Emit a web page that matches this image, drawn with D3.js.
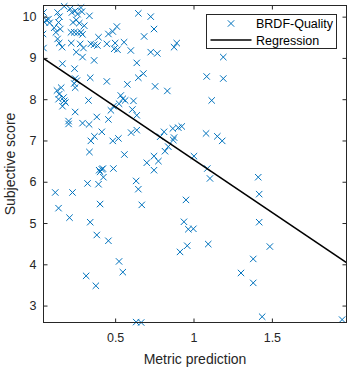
<!DOCTYPE html>
<html>
<head>
<meta charset="utf-8">
<script src="https://cdn.jsdelivr.net/npm/d3@7"></script>
<style>
  body { margin: 0; background: #fff; }
  svg { display: block; font-family: "Liberation Sans", Arial, sans-serif; }
</style>
</head>
<body>
<div id="chart"></div>
<script>
// BRDF-Quality samples: metric prediction (x) vs subjective score (y)
metricPrediction = [
  0.043, 0.050, 0.061, 0.075, 0.082, 0.040, 0.043, 0.133, 0.145, 0.139,
  0.150, 0.175, 0.213, 0.224, 0.245, 0.260, 0.282, 0.288, 0.336, 0.231,
  0.252, 0.271, 0.303, 0.111, 0.122, 0.218, 0.239, 0.260, 0.282, 0.292,
  0.133, 0.143, 0.162, 0.220, 0.277, 0.298, 0.345, 0.366, 0.387, 0.394,
  0.252, 0.292, 0.366, 0.164, 0.241, 0.245, 0.256, 0.239, 0.245, 0.341,
  0.447, 0.447, 0.500, 0.494, 0.515, 0.557, 0.600, 0.457, 0.485, 0.511,
  0.648, 0.727, 0.748, 0.685, 0.638, 0.648, 0.680, 0.755, 0.833, 0.578,
  0.536, 0.549, 0.564, 0.525, 0.473, 0.489, 0.617, 0.610, 0.638, 0.330,
  0.129, 0.156, 0.143, 0.171, 0.139, 0.175, 0.164, 0.183, 0.245, 0.203,
  0.203, 0.292, 0.334, 0.383, 0.457, 0.727, 0.769, 0.876, 0.893, 1.190,
  1.084, 1.190, 1.116, 0.903, 0.925, 0.118, 0.139, 0.209, 0.228, 0.324,
  0.336, 0.345, 0.368, 0.415, 0.341, 0.383, 0.457, 0.394, 0.404, 0.425,
  0.404, 0.415, 0.398, 0.422, 0.489, 0.485, 0.521, 0.559, 0.602, 0.638,
  0.634, 0.648, 0.670, 0.702, 0.748, 0.776, 0.748, 0.818, 0.839, 0.812,
  0.871, 0.876, 0.868, 0.787, 1.080, 1.152, 1.183, 1.003, 1.088, 1.105,
  1.413, 1.419, 0.952, 0.939, 0.967, 0.999, 1.419, 0.960, 1.094, 1.487,
  0.315, 0.377, 0.525, 0.549, 0.634, 0.666, 0.914, 1.381, 1.303, 1.381,
  1.438, 1.948
];
subjectiveScore = [
  10.10, 9.86, 9.92, 9.94, 9.85, 9.58, 9.24, 10.10, 10.00, 9.86,
  9.70, 10.25, 10.19, 10.10, 10.14, 10.06, 10.22, 10.12, 10.02, 9.86,
  9.92, 9.84, 9.78, 9.73, 9.62, 9.62, 9.62, 9.61, 9.62, 9.57,
  9.46, 9.36, 9.26, 9.36, 9.34, 9.24, 9.34, 9.32, 9.30, 9.50,
  9.14, 9.02, 8.94, 8.86, 8.74, 8.50, 8.45, 8.38, 8.28, 8.52,
  8.43, 9.34, 9.36, 9.22, 9.20, 9.38, 9.18, 9.58, 9.64, 9.76,
  10.08, 10.00, 9.70, 9.52, 8.88, 8.52, 8.62, 8.31, 8.20, 8.36,
  8.09, 8.01, 7.97, 7.89, 7.73, 7.83, 7.96, 7.75, 7.61, 7.97,
  8.21, 8.28, 8.12, 8.04, 8.00, 7.96, 7.83, 7.92, 7.69, 7.47,
  7.40, 7.42, 7.39, 7.57, 7.51, 9.14, 9.11, 9.26, 9.36, 9.02,
  8.55, 8.50, 7.97, 7.31, 7.34, 5.74, 5.36, 5.13, 5.74, 5.96,
  6.72, 6.99, 7.10, 7.21, 5.02, 4.71, 4.57, 5.94, 5.46, 6.11,
  6.24, 6.30, 6.28, 6.32, 6.32, 6.99, 7.05, 6.66, 7.19, 7.25,
  6.02, 5.82, 5.44, 6.46, 6.62, 6.50, 6.28, 6.74, 6.85, 7.21,
  7.01, 7.07, 7.29, 7.09, 7.17, 7.10, 6.99, 6.62, 6.32, 6.08,
  6.11, 5.70, 5.56, 5.03, 4.85, 4.86, 5.02, 4.45, 4.49, 4.43,
  3.72, 3.48, 4.07, 3.81, 2.60, 2.59, 4.30, 4.13, 3.79, 3.55,
  2.73, 2.66
];

// fitted regression line
regIntercept = 9.10;
regSlope = -2.56;

xTicks = [0.5, 1, 1.5];
yTicks = [3, 4, 5, 6, 7, 8, 9, 10];
xDomain = [0.043, 1.976];
yDomain = [2.59, 10.27];

const width = 351;
const height = 370;
const margins = { top: 5.5, right: 4.5, bottom: 47.5, left: 43.5 };
const axisColor = "#262626";
const blue = "#0072BD";

const data = metricPrediction.map((d, i) => ({ x: d, y: subjectiveScore[i] }));

var svg = d3.select("#chart")
    .append("svg")
    .attr("width", width)
    .attr("height", height);

var x = d3.scaleLinear()
    .domain(xDomain)
    .range([margins.left, width - margins.right]);
var y = d3.scaleLinear()
    .domain(yDomain)
    .range([height - margins.bottom, margins.top]);

const x0 = x.range()[0], x1 = x.range()[1];
const y0 = y.range()[1], y1 = y.range()[0];

svg.append("rect")
    .attr("x", x0).attr("y", y0)
    .attr("width", x1 - x0).attr("height", y1 - y0)
    .attr("fill", "#fff");

var clip = svg.append("clipPath").attr("id", "plot")
    .append("rect")
    .attr("x", x0).attr("y", y0 - 4)
    .attr("width", x1 - x0 + 4).attr("height", y1 - y0 + 8);

// scatter markers
svg.append("g")
    .attr("clip-path", "url(#plot)")
    .selectAll("path")
    .data(data)
    .join("path")
    .attr("transform", d => `translate(${x(d.x)},${y(d.y)})`)
    .attr("d", "M-3.2,-3.2L3.2,3.2M-3.2,3.2L3.2,-3.2")
    .attr("fill", "none")
    .attr("stroke", blue)
    .attr("stroke-width", 1);

// regression line across the x range
svg.append("line")
    .attr("x1", x(xDomain[0])).attr("y1", y(regIntercept + regSlope * xDomain[0]))
    .attr("x2", x(xDomain[1])).attr("y2", y(regIntercept + regSlope * xDomain[1]))
    .attr("stroke", "#000")
    .attr("stroke-width", 1.6);

styleAxis = (g) => {
    g.select(".domain").remove();
    g.selectAll("line").attr("stroke", axisColor);
    g.selectAll("text").attr("fill", axisColor).style("font-size", "12.5px");
};

svg.append("g")
    .attr("transform", `translate(0,${y1})`)
    .call(d3.axisBottom(x).tickValues(xTicks).tickFormat(d3.format("")).tickSize(-4).tickPadding(11))
    .call(styleAxis);
svg.append("g")
    .attr("transform", `translate(0,${y0})`)
    .call(d3.axisTop(x).tickValues(xTicks).tickFormat("").tickSize(-4))
    .call(styleAxis);
svg.append("g")
    .attr("transform", `translate(${x0},0)`)
    .call(d3.axisLeft(y).tickValues(yTicks).tickFormat(d3.format("")).tickSize(-4).tickPadding(7))
    .call(styleAxis);
svg.append("g")
    .attr("transform", `translate(${x1},0)`)
    .call(d3.axisRight(y).tickValues(yTicks).tickFormat("").tickSize(-4))
    .call(styleAxis);

svg.append("rect")
    .attr("x", x0).attr("y", y0)
    .attr("width", x1 - x0).attr("height", y1 - y0)
    .attr("fill", "none")
    .attr("stroke", axisColor)
    .attr("stroke-width", 1);

// axis titles
svg.append("text")
    .attr("x", (x0 + x1) / 2)
    .attr("y", 364)
    .attr("text-anchor", "middle")
    .attr("fill", axisColor)
    .style("font-size", "14px")
    .text("Metric prediction");
svg.append("text")
    .attr("transform", `translate(15,${(y0 + y1) / 2}) rotate(-90)`)
    .attr("text-anchor", "middle")
    .attr("fill", axisColor)
    .style("font-size", "14px")
    .text("Subjective score");

// legend
var legend = svg.append("g");
legend.append("rect")
    .attr("x", 206.5).attr("y", 14.5)
    .attr("width", 130).attr("height", 34)
    .attr("fill", "#fff")
    .attr("stroke", axisColor)
    .attr("stroke-width", 1);
legend.append("path")
    .attr("transform", "translate(231,23.5)")
    .attr("d", "M-3.2,-3.2L3.2,3.2M-3.2,3.2L3.2,-3.2")
    .attr("fill", "none")
    .attr("stroke", blue);
legend.append("line")
    .attr("x1", 210.5).attr("x2", 251.5)
    .attr("y1", 40).attr("y2", 40)
    .attr("stroke", "#000")
    .attr("stroke-width", 1.6);
legend.append("text")
    .attr("x", 256).attr("y", 28)
    .attr("fill", "#000")
    .style("font-size", "12.5px")
    .text("BRDF-Quality");
legend.append("text")
    .attr("x", 256).attr("y", 44.5)
    .attr("fill", "#000")
    .style("font-size", "12.5px")
    .text("Regression");
</script>
</body>
</html>
